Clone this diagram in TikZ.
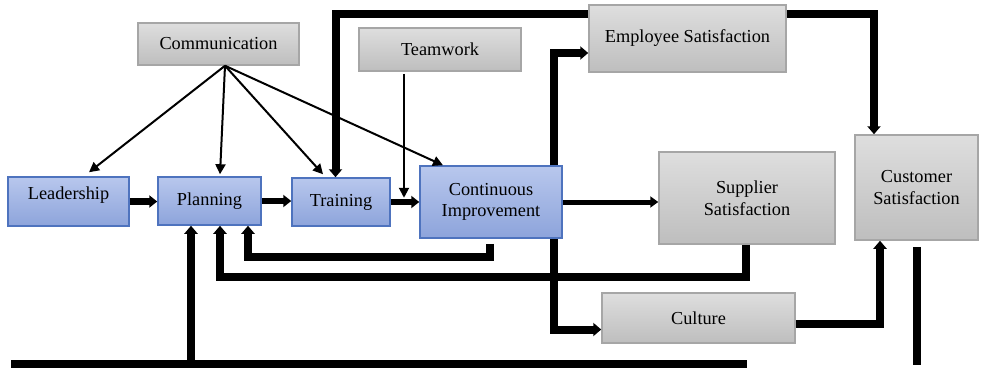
\documentclass[tikz,border=0pt]{standalone}
\usepackage{fontspec}
\setmainfont{Liberation Serif}
\usetikzlibrary{arrows.meta}
\definecolor{bluetop}{HTML}{B8C7ED}
\definecolor{bluebot}{HTML}{8DA4DB}
\definecolor{blueborder}{HTML}{4E73BE}
\definecolor{graytop}{HTML}{DEDEDE}
\definecolor{graybot}{HTML}{BEBEBE}
\definecolor{grayborder}{HTML}{A6A6A6}
\begin{document}
\begin{tikzpicture}[x=1pt,y=-1pt,
  box/.style={line width=1.5pt, inner sep=2pt, align=center, font=\fontsize{18.3}{21.5}\selectfont},
  bluebox/.style={box, draw=blueborder, top color=bluetop, bottom color=bluebot},
  graybox/.style={box, draw=grayborder, top color=graytop, bottom color=graybot},
  thinarrow/.style={line width=2pt, -{Triangle[length=10pt,width=10pt]}},
  midarrow/.style={line width=5pt, -{Triangle[length=8pt,width=11pt]}},
  shortarrow/.style={line width=6.5pt, -{Triangle[length=8pt,width=12pt]}},
  thkarrow/.style={line width=8pt, -{Triangle[length=8pt,width=13pt]}},
  thkline/.style={line width=8.5pt}]
\useasboundingbox (0,0) rectangle (981,369);

% boxes
\node[graybox, minimum width=161pt, minimum height=42pt] (comm) at (218.5,44) {Communication};
\node[graybox, minimum width=162pt, minimum height=43pt] (team) at (440,49.5) {Teamwork};
\node[graybox, minimum width=197pt, minimum height=67pt] (emp) at (687.5,38.5) {Employee Satisfaction};
\node[bluebox, minimum width=121pt, minimum height=49pt,
      label={[font=\fontsize{18.3}{21.5}\selectfont, yshift=6pt]center:Leadership}] (lead) at (68.5,201.5) {};
\node[bluebox, minimum width=103pt, minimum height=48pt] (plan) at (209.5,201) {Planning};
\node[bluebox, minimum width=98pt, minimum height=48pt] (train) at (341,202) {Training};
\node[bluebox, minimum width=142pt, minimum height=72pt] (ci) at (491,202) {Continuous\\Improvement};
\node[graybox, minimum width=176pt, minimum height=92pt] (sup) at (747,198) {Supplier\\Satisfaction};
\node[graybox, minimum width=123pt, minimum height=105pt] (cust) at (916.5,187.5) {Customer\\Satisfaction};
\node[graybox, minimum width=193pt, minimum height=50pt] (cult) at (698.5,318) {Culture};

% communication arrows
\draw[thinarrow] ([xshift=6.5pt]comm.south) -- ([xshift=20.5pt,yshift=4pt]lead.north);
\draw[thinarrow] ([xshift=6.5pt]comm.south) -- ([xshift=10.5pt,yshift=2pt]plan.north);
\draw[thinarrow] ([xshift=6.5pt]comm.south) -- ([xshift=-18pt,yshift=3pt]train.north);
\draw[thinarrow] ([xshift=6.5pt]comm.south) -- ([xshift=-48pt]ci.north);

% teamwork
\draw[thinarrow] ([xshift=-36pt,yshift=-2pt]team.south) -- ++(0,124);

% main chain
\draw[shortarrow] (lead.east) -- (lead.east -| plan.west);
\draw[shortarrow] (plan.east) -- (plan.east -| train.west);
\draw[shortarrow] (train.east) -- (train.east -| ci.west);
\draw[midarrow] (ci.east) -- (ci.east -| sup.west);

% top loop
\draw[thkarrow] ([yshift=24.5pt]emp.west) -| ([xshift=-5.5pt]train.north);
\draw[thkarrow] ([yshift=24.5pt]emp.east) -| ([xshift=-42.5pt]cust.north);

% CI to employee and culture
\draw[thkarrow] ([xshift=62.5pt]ci.north) |- ([yshift=-14.5pt]emp.west);
\draw[thkarrow] ([xshift=62.5pt]ci.south) |- ([yshift=-11.5pt]cult.west);

% culture to customer
\draw[thkarrow] ([yshift=-6pt]cult.east) -| ([xshift=-36.5pt]cust.south);

% feedback loops to planning
\draw[thkarrow] ([xshift=-1pt,yshift=-5pt]ci.south) -- ++(0,13.5) -| ([xshift=38.5pt]plan.south);
\draw[thkarrow] ([xshift=-1.5pt]sup.south) -- ++(0,32.5) -| ([xshift=10.5pt]plan.south);

% bottom line
\coordinate (bl) at (11,364);
\coordinate (br) at (747,364);
\coordinate (pu) at (191,364);
\draw[thkline] (bl) -- (br);
\draw[thkarrow] (pu) -- (pu |- plan.south);

% customer bottom line
\draw[thkline] ([xshift=0.5pt,yshift=-6pt]cust.south) -- ++(0,118);
\end{tikzpicture}
\end{document}
